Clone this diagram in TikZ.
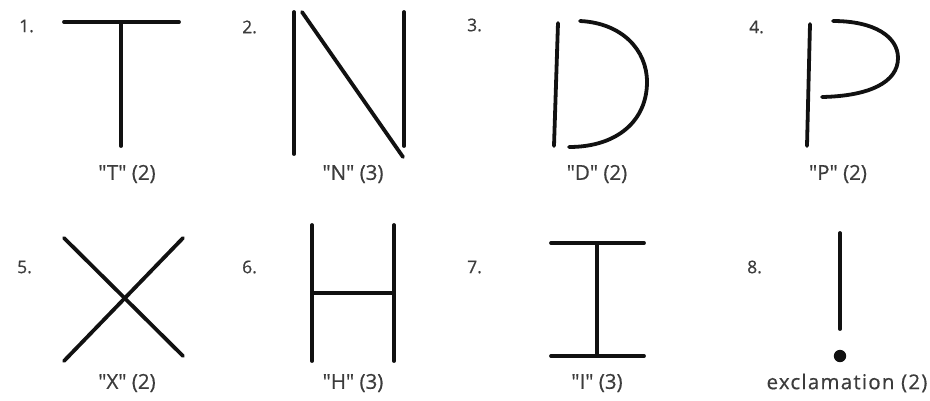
\documentclass[tikz,border=0pt]{standalone}
\usepackage{fontspec}
\setmainfont{Open Sans}[Ligatures=TeXOff,FakeBold=0.6]
\newfontfamily\widefont{Open Sans}[Ligatures=TeXOff,FakeBold=0.6,LetterSpace=6]
\definecolor{txt}{HTML}{3C3C3C}
\definecolor{ink}{HTML}{111111}
\begin{document}
\begin{tikzpicture}[x=1pt,y=-1pt,
  stroke/.style={draw=ink,line width=3.8pt,line cap=round},
  num/.style={text=txt,font=\fontsize{17.5}{20}\selectfont,anchor=west,inner sep=0pt},
  lbl/.style={text=txt,font=\fontsize{20.5}{24}\selectfont,inner sep=0pt}]
\useasboundingbox (0,0) rectangle (930,400);
% numbers
\node[num] (n1) at (19,26) {1.};
\node[num] (n2) at (242,27) {2.};
\node[num] (n3) at (467,25) {3.};
\node[num] (n4) at (749,27) {4.};
\node[num] (n5) at (17,267) {5.};
\node[num] (n6) at (242,267) {6.};
\node[num] (n7) at (467,267) {7.};
\node[num] (n8) at (747,267) {8.};
% T
\draw[stroke] (64,22) -- (179,22);
\draw[stroke] (121,22) -- (121,146);
\node[lbl] (l1) at (127,174) {"T" (2)};
% N
\draw[stroke] (294,12) -- (294,154);
\draw[stroke] (302,12) -- (403,157);
\draw[stroke] (404,12) -- (404,146);
\node[lbl] (l2) at (353,174) {"N" (3)};
% D
\draw[stroke] (558,23) -- (554,146);
\draw[stroke] (580,21) .. controls (622,23) and (647,50) .. (647,82)
  .. controls (647,120) and (618,147) .. (569,147);
\node[lbl] (l3) at (597,174) {"D" (2)};
% P
\draw[stroke] (810,24) -- (807,146);
\draw[stroke] (833,21) .. controls (875,21) and (898,37) .. (898,58)
  .. controls (898,82) and (870,96) .. (822,97);
\node[lbl] (l4) at (838,174) {"P" (2)};
% X
\draw[stroke] (64,238) -- (183,356);
\draw[stroke] (64,361) -- (183,238);
\node[lbl] (l5) at (127,383) {"X" (2)};
% H
\draw[stroke] (312,225) -- (312,361);
\draw[stroke] (394,225) -- (394,361);
\draw[stroke] (312,293) -- (394,293);
\node[lbl] (l6) at (353,383) {"H" (3)};
% I
\draw[stroke] (551,243) -- (644,243);
\draw[stroke] (551,356) -- (644,356);
\draw[stroke] (597,243) -- (597,356);
\node[lbl] (l7) at (597,383) {"I" (3)};
% !
\draw[stroke] (840,233) -- (840,329);
\fill[ink] (840,356) circle (6.2);
\node[lbl,font=\widefont\fontsize{20.5}{24}\selectfont] (l8) at (847,383) {exclamation (2)};
\end{tikzpicture}
\end{document}
